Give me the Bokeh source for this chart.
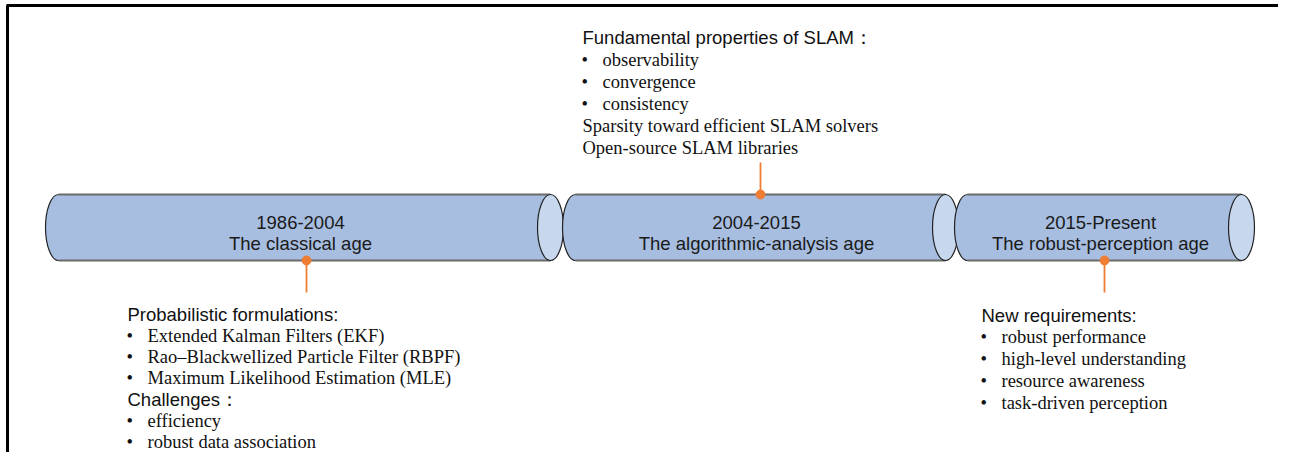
from bokeh.plotting import figure
from bokeh.models import Range1d
from bokeh.core.properties import value
from bokeh.embed import file_html
from bokeh.resources import INLINE

# ---------------- data ----------------
era_years = ["1986-2004", "2004-2015", "2015-Present"]
era_names = ["The classical age", "The algorithmic-analysis age", "The robust-perception age"]

classical_lines = ["Probabilistic formulations:",
                   "Extended Kalman Filters (EKF)",
                   "Rao\u2013Blackwellized Particle Filter (RBPF)",
                   "Maximum Likelihood Estimation (MLE)",
                   "Challenges\uff1a",
                   "efficiency",
                   "robust data association"]
classical_kinds = ["head", "bullet", "bullet", "bullet", "head", "bullet", "bullet"]

algorithmic_lines = ["Fundamental properties of SLAM\uff1a",
                     "observability",
                     "convergence",
                     "consistency",
                     "Sparsity toward efficient SLAM solvers",
                     "Open-source SLAM libraries"]
algorithmic_kinds = ["head", "bullet", "bullet", "bullet", "plain", "plain"]

robust_lines = ["New requirements:",
                "robust performance",
                "high-level understanding",
                "resource awareness",
                "task-driven perception"]
robust_kinds = ["head", "bullet", "bullet", "bullet", "bullet"]

# ---------------- layout (pixel coordinates of the picture) ----------------
W, H = 1278, 452
p = figure(width=W, height=H, x_range=Range1d(0, W), y_range=Range1d(H, 0),
           output_backend="svg", toolbar_location=None, min_border=0,
           x_axis_location=None, y_axis_location=None, outline_line_color=None)
p.grid.visible = False
p.background_fill_color = "white"
p.border_fill_color = "white"

SANS = value("Liberation Sans")
SERIF = value("Liberation Serif")
FS = "18.5px"
BODY = "#a7bee0"
CAP = "#c7d8ee"
ORANGE = "#ef7d33"

# frame (top & left)
p.segment(x0=[6, 7], y0=[5, 5], x1=[W, 7], y1=[5, H],
          line_color="black", line_width=3)

# cylinders
cyl_left = [58, 575, 967]
cyl_right = [550, 945, 1241]
ytop, ybot = 194, 260
ymid = (ytop + ybot) / 2
cap_w, cap_h = 26, ybot - ytop

for i in range(len(era_years)):
    xl, xr = cyl_left[i], cyl_right[i]
    p.ellipse(x=[xl], y=[ymid], width=cap_w, height=cap_h, fill_color=BODY,
              line_color="#222222", line_width=1.2)
    p.quad(left=[xl], right=[xr], top=[ytop], bottom=[ybot], fill_color=BODY, line_color=None)
    p.segment(x0=[xl, xl], y0=[ytop, ybot], x1=[xr, xr], y1=[ytop, ybot],
              line_color="#6a6a6a", line_width=2)
    p.ellipse(x=[xr], y=[ymid], width=cap_w, height=cap_h, fill_color=CAP,
              line_color="#222222", line_width=1.2)
    xc = (xl + xr) / 2 - 4
    p.text(x=[xc], y=[222], text=[era_years[i]], text_font=SANS, text_font_size=FS,
           text_align="center", text_baseline="alphabetic", text_color="#1a1a1a")
    p.text(x=[xc], y=[243], text=[era_names[i]], text_font=SANS, text_font_size=FS,
           text_align="center", text_baseline="alphabetic", text_color="#1a1a1a")

# connectors
dots_x = [306, 760, 1104]
dots_y = [ybot, ytop, ybot]
line_end = [292, 162, 292]
for i in range(3):
    p.segment(x0=[dots_x[i]], y0=[dots_y[i]], x1=[dots_x[i]], y1=[line_end[i]],
              line_color=ORANGE, line_width=1.8)
p.scatter(x=dots_x, y=dots_y, size=9, marker="circle", fill_color=ORANGE, line_color=ORANGE)

# annotation blocks
def block(lines, kinds, x, y, step=22.1):
    for j, (t, k) in enumerate(zip(lines, kinds)):
        yy = y + j * step
        if k == "head":
            p.text(x=[x], y=[yy], text=[t], text_font=SANS, text_font_size=FS,
                   text_baseline="alphabetic", text_color="#111111")
        elif k == "bullet":
            p.text(x=[x - 1], y=[yy], text=["\u2022"], text_font=SERIF, text_font_size=FS,
                   text_baseline="alphabetic", text_color="#111111")
            p.text(x=[x + 20], y=[yy], text=[t], text_font=SERIF, text_font_size=FS,
                   text_baseline="alphabetic", text_color="#111111")
        else:
            p.text(x=[x], y=[yy], text=[t], text_font=SERIF, text_font_size=FS,
                   text_baseline="alphabetic", text_color="#111111")

block(classical_lines, classical_kinds, 127, 314, step=21.2)
block(algorithmic_lines, algorithmic_kinds, 582, 37)
block(robust_lines, robust_kinds, 981, 315, step=21.9)

open("out.html", "w").write(file_html(p, INLINE))
